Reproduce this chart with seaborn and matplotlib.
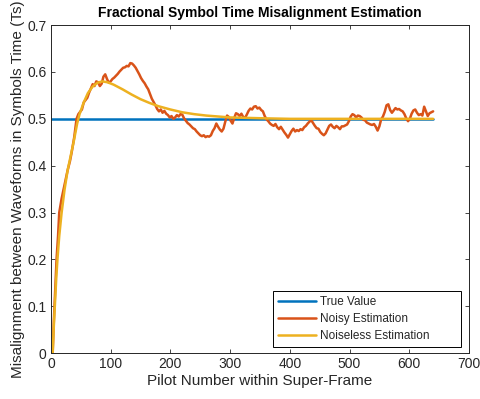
import numpy as np
import pandas as pd
import seaborn as sns
import matplotlib
matplotlib.use("Agg")
import matplotlib.pyplot as plt

# true value
true_pilot = [0, 640]
true_value = [0.5, 0.5]

# noisy estimation
noisy_pilot = [3, 5, 7, 9.5, 12, 14, 18, 23, 28, 32, 35, 39, 43, 46] + list(range(49, 641, 3))
noisy_value = [
    0.0, 0.07, 0.13, 0.2, 0.25, 0.3, 0.33, 0.36, 0.39, 0.41, 0.43, 0.46, 0.5, 0.51,
    0.515, 0.52, 0.535, 0.54, 0.545, 0.556, 0.565, 0.574, 0.57, 0.58, 0.578, 0.57, 0.575, 0.59,
    0.595, 0.585, 0.577, 0.58, 0.585, 0.588, 0.592, 0.596, 0.601, 0.605, 0.609, 0.61, 0.613, 0.612,
    0.619, 0.618, 0.614, 0.609, 0.602, 0.595, 0.587, 0.581, 0.576, 0.569, 0.563, 0.553, 0.543, 0.536,
    0.529, 0.521, 0.516, 0.52, 0.513, 0.517, 0.511, 0.508, 0.503, 0.506, 0.5, 0.503, 0.508, 0.505,
    0.51, 0.509, 0.501, 0.496, 0.491, 0.488, 0.484, 0.48, 0.478, 0.473, 0.469, 0.465, 0.463, 0.465,
    0.461, 0.463, 0.462, 0.465, 0.474, 0.48, 0.49, 0.483, 0.477, 0.473, 0.479, 0.494, 0.507, 0.504,
    0.496, 0.49, 0.502, 0.512, 0.51, 0.506, 0.511, 0.504, 0.502, 0.509, 0.517, 0.522, 0.52, 0.526,
    0.527, 0.522, 0.524, 0.519, 0.516, 0.506, 0.499, 0.495, 0.49, 0.487, 0.485, 0.489, 0.482, 0.478,
    0.483, 0.477, 0.471, 0.466, 0.46, 0.467, 0.474, 0.479, 0.473, 0.476, 0.474, 0.478, 0.476, 0.482,
    0.485, 0.49, 0.494, 0.497, 0.491, 0.485, 0.48, 0.479, 0.472, 0.468, 0.465, 0.469, 0.477, 0.485,
    0.488, 0.483, 0.48, 0.485, 0.482, 0.478, 0.484, 0.484, 0.486, 0.488, 0.495, 0.505, 0.51, 0.508,
    0.503, 0.507, 0.506, 0.503, 0.498, 0.497, 0.492, 0.49, 0.488, 0.487, 0.489, 0.483, 0.475, 0.484,
    0.499, 0.505, 0.515, 0.529, 0.531, 0.519, 0.513, 0.518, 0.523, 0.52, 0.521, 0.518, 0.516, 0.51,
    0.501, 0.495, 0.5, 0.511, 0.518, 0.52, 0.513, 0.508, 0.51, 0.507, 0.526, 0.516, 0.506, 0.512,
    0.514, 0.516,
]

# noiseless estimation
clean_pilot = [3, 5, 7, 9, 11, 14, 18, 23, 28, 33, 38, 44, 48, 55, 62, 70, 78, 86, 95, 105,
               120, 135, 150, 165, 180, 200, 220, 240, 260, 280, 300, 330, 360, 400, 500, 640]
clean_value = [0.0, 0.06, 0.11, 0.16, 0.2, 0.25, 0.3, 0.35, 0.39, 0.42, 0.45, 0.49, 0.51, 0.535,
               0.555, 0.569, 0.577, 0.58, 0.578, 0.573, 0.563, 0.552, 0.542, 0.534, 0.527, 0.52,
               0.514, 0.51, 0.507, 0.505, 0.503, 0.502, 0.501, 0.5, 0.5, 0.5]

series_names = ["True Value", "Noisy Estimation", "Noiseless Estimation"]
series_colors = ["#0072BD", "#D95319", "#EDB120"]

df = pd.concat([
    pd.DataFrame({"pilot": true_pilot, "value": true_value, "series": series_names[0]}),
    pd.DataFrame({"pilot": noisy_pilot, "value": noisy_value, "series": series_names[1]}),
    pd.DataFrame({"pilot": clean_pilot, "value": clean_value, "series": series_names[2]}),
], ignore_index=True)

sns.set_theme(style="ticks")
plt.rcParams["font.family"] = ["Liberation Sans", "DejaVu Sans"]
text_color = "#262626"

fig, ax = plt.subplots(figsize=(4.8, 3.99), dpi=100)
fig.subplots_adjust(left=0.106, right=0.977, bottom=0.115, top=0.937)

sns.lineplot(data=df, x="pilot", y="value", hue="series", hue_order=series_names,
             palette=series_colors, estimator=None, sort=False, linewidth=1.8, ax=ax)

ax.set_xlim(0, 700)
ax.set_ylim(0, 0.7)
ax.set_xticks(np.arange(0, 701, 100))
ax.set_yticks(np.arange(0, 0.71, 0.1))
ax.set_yticklabels(["0", "0.1", "0.2", "0.3", "0.4", "0.5", "0.6", "0.7"])
ax.tick_params(direction="in", length=3, width=0.6, top=True, right=True,
               labelsize=10, colors=text_color, pad=3)
for sp in ax.spines.values():
    sp.set_visible(True)
    sp.set_color(text_color)
    sp.set_linewidth(0.7)

ax.set_xlabel("Pilot Number within Super-Frame", fontsize=11, color=text_color, labelpad=2)
ax.set_ylabel("Misalignment between Waveforms in Symbols Time (Ts)", fontsize=11,
              color=text_color, labelpad=2)
ax.set_title("Fractional Symbol Time Misalignment Estimation", fontsize=10,
             fontweight="bold", color="black", pad=6)

# matlab-style legend box: content left aligned, wide right margin
leg = ax.legend(loc="lower left", bbox_to_anchor=(0.531, 0.018, 0.45, 0), mode="expand",
                fontsize=8.5, frameon=True, fancybox=False, edgecolor="black",
                framealpha=1, borderaxespad=0, handlelength=3.2, handletextpad=0.3,
                borderpad=0.45, labelspacing=0.4)
leg.get_frame().set_linewidth(0.7)

fig.savefig("out.png", dpi=100)
